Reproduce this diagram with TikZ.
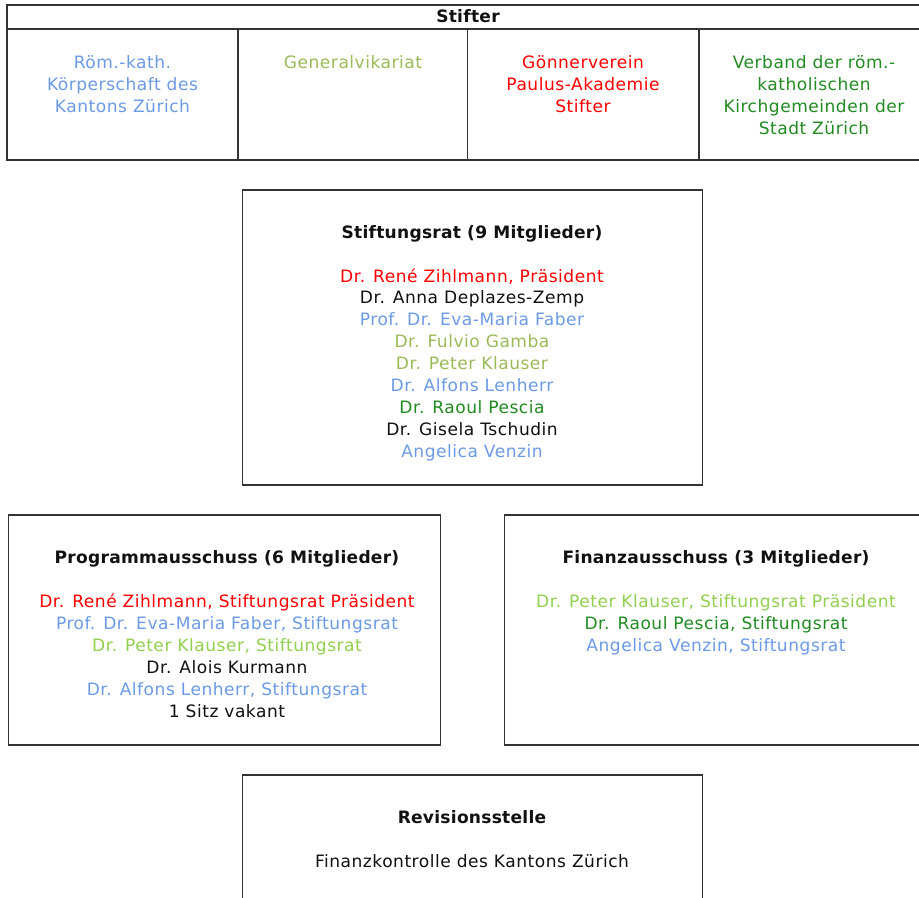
\documentclass[tikz,border=0pt]{standalone}
\usepackage{fontspec}
\setmainfont{DejaVu Sans}
\newfontfamily\regf{DejaVu Sans}[LetterSpace=3]
\newfontfamily\boldf{DejaVu Sans Bold}[LetterSpace=1.5]
\definecolor{cblue}{RGB}{108,155,230}
\definecolor{colive}{RGB}{155,187,89}
\definecolor{clgreen}{RGB}{146,208,80}
\definecolor{cdgreen}{RGB}{34,139,34}
\definecolor{cred}{RGB}{255,0,0}
\definecolor{cblack}{RGB}{17,17,17}
\begin{document}
\begin{tikzpicture}[x=0.75pt,y=-0.75pt,
  box/.style={draw=black!80,line width=1pt},
  txt/.style={anchor=base,inner sep=0pt,font=\regf\fontsize{12.8}{15}\selectfont},
  ttl/.style={anchor=base,inner sep=0pt,text=cblack,font=\boldf\fontsize{12.8}{15}\selectfont}]
\useasboundingbox (0,0) rectangle (919,897);
\fill[white] (0,0) rectangle (919,897);
\clip (0,0) rectangle (919,897);

% ---- Stifter table ----
\draw[box] (7,5) rectangle (930,160);
\draw[box] (7,29) -- (930,29);
\draw[box] (238,29) -- (238,160);
\draw[box] (467.5,29) -- (467.5,160);
\draw[box] (699,29) -- (699,160);
\node[ttl] (stifter) at (468,22) {Stifter};

\foreach \t [count=\i from 0] in {Röm.-kath.,Körperschaft des,Kantons Zürich}
  \node[txt,text=cblue] (ca\i) at (122.5,{68+22*\i}) {\t};
\node[txt,text=colive] (cb0) at (353,68) {Generalvikariat};
\foreach \t [count=\i from 0] in {Gönnerverein,Paulus-Akademie,Stifter}
  \node[txt,text=cred] (cc\i) at (583,{68+22*\i}) {\t};
\foreach \t [count=\i from 0] in {Verband der röm.-,katholischen,Kirchgemeinden der,Stadt Zürich}
  \node[txt,text=cdgreen] (cd\i) at (814,{68+22*\i}) {\t};

% ---- Stiftungsrat ----
\draw[box] (242.5,190) rectangle (702.5,485);
\node[ttl] (srt) at (472,238) {Stiftungsrat (9 Mitglieder)};
\foreach \t/\c [count=\i from 0] in {
  {Dr. René Zihlmann, Präsident}/cred,
  {Dr. Anna Deplazes-Zemp}/cblack,
  {Prof. Dr. Eva-Maria Faber}/cblue,
  {Dr. Fulvio Gamba}/colive,
  {Dr. Peter Klauser}/colive,
  {Dr. Alfons Lenherr}/cblue,
  {Dr. Raoul Pescia}/cdgreen,
  {Dr. Gisela Tschudin}/cblack,
  {Angelica Venzin}/cblue}
  \node[txt,text=\c] (sr\i) at (472,{282+21.95*\i}) {\t};

% ---- Programmausschuss ----
\draw[box] (8.5,515) rectangle (440.5,745);
\node[ttl] (pat) at (227,563) {Programmausschuss (6 Mitglieder)};
\foreach \t/\c [count=\i from 0] in {
  {Dr. René Zihlmann, Stiftungsrat Präsident}/cred,
  {Prof. Dr. Eva-Maria Faber, Stiftungsrat}/cblue,
  {Dr. Peter Klauser, Stiftungsrat}/clgreen,
  {Dr. Alois Kurmann}/cblack,
  {Dr. Alfons Lenherr, Stiftungsrat}/cblue,
  {1 Sitz vakant}/cblack}
  \node[txt,text=\c] (pa\i) at (227,{607+22*\i}) {\t};

% ---- Finanzausschuss ----
\draw[box] (504.5,515) rectangle (928,745);
\node[ttl] (fat) at (716,563) {Finanzausschuss (3 Mitglieder)};
\foreach \t/\c [count=\i from 0] in {
  {Dr. Peter Klauser, Stiftungsrat Präsident}/clgreen,
  {Dr. Raoul Pescia, Stiftungsrat}/cdgreen,
  {Angelica Venzin, Stiftungsrat}/cblue}
  \node[txt,text=\c] (fa\i) at (716,{607+22*\i}) {\t};

% ---- Revisionsstelle ----
\draw[box] (242.5,775) rectangle (702.5,910);
\node[ttl] (rvt) at (472,823) {Revisionsstelle};
\node[txt,text=cblack] (rv0) at (472,867) {Finanzkontrolle des Kantons Zürich};
\end{tikzpicture}
\end{document}
